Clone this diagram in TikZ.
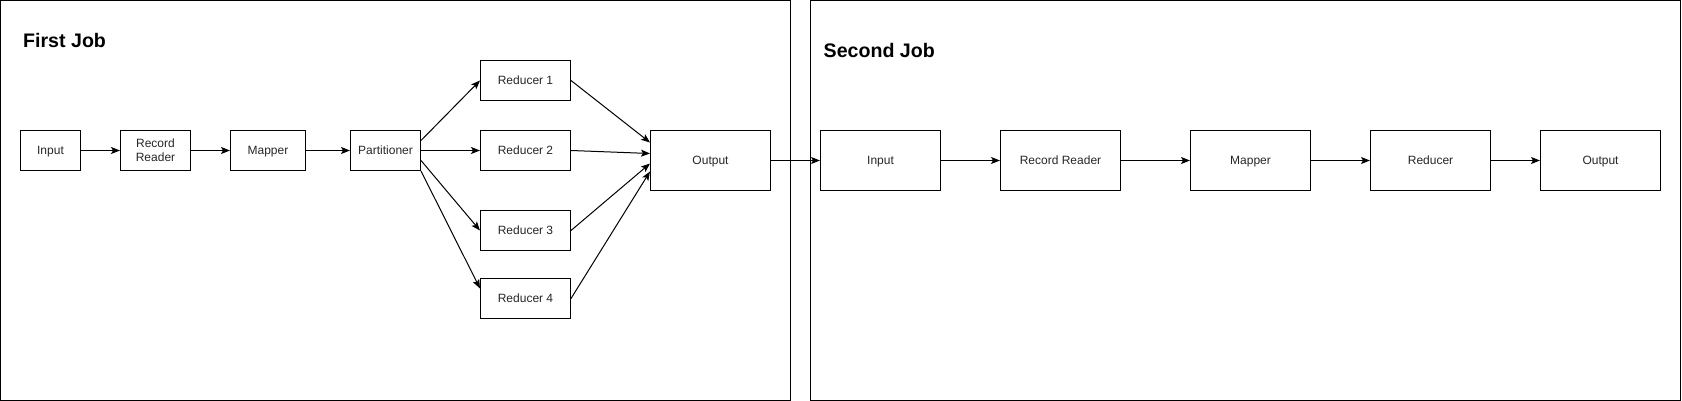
\documentclass[tikz,border=0pt]{standalone}
\usepackage{fontspec}
\setmainfont{Liberation Sans}
\usetikzlibrary{arrows.meta}
\begin{document}
\begin{tikzpicture}[x=1pt,y=-1pt,
  box/.style={draw=black,line width=1pt,anchor=north west,inner sep=0pt,
    font=\fontsize{12}{14}\selectfont,text=black!85,text height=8.6pt,text depth=0pt},
  box2/.style={draw=black,line width=1pt,anchor=north west,inner sep=0pt,
    font=\fontsize{12}{14}\selectfont,text=black!85,align=center},
  frame/.style={draw=black,line width=1pt},
  title/.style={anchor=base west,inner sep=0pt,font=\fontsize{19.6}{22}\selectfont\bfseries},
  conn/.style={line width=1pt,-{Stealth[length=9pt,width=7pt,inset=2pt]}}]
\useasboundingbox (0,0) rectangle (1682,401);
\draw[frame] (0.5,0.5) rectangle (790.5,400.5);
\draw[frame] (810.5,0.5) rectangle (1680.5,400.5);
\node[title] (t1) at (23,48) {First Job};
\node[title] (t2) at (823.5,58) {Second Job};
% first job
\node[box,minimum width=60pt,minimum height=40pt] (in1) at (20,130) {Input};
\node[box2,minimum width=70pt,minimum height=40pt] (rr1) at (120,130) {Record\\Reader};
\node[box,minimum width=75pt,minimum height=40pt] (map1) at (230,130) {Mapper};
\node[box,minimum width=70pt,minimum height=40pt] (part) at (350,130) {Partitioner};
\node[box,minimum width=90pt,minimum height=40pt] (r1) at (480,60) {Reducer 1};
\node[box,minimum width=90pt,minimum height=40pt] (r2) at (480,130) {Reducer 2};
\node[box,minimum width=90pt,minimum height=40pt] (r3) at (480,210) {Reducer 3};
\node[box,minimum width=90pt,minimum height=40pt] (r4) at (480,278) {Reducer 4};
\node[box,minimum width=120pt,minimum height=60pt] (out1) at (650,130) {Output};
% second job
\node[box,minimum width=120pt,minimum height=60pt] (in2) at (820,130) {Input};
\node[box,minimum width=120pt,minimum height=60pt] (rr2) at (1000,130) {Record Reader};
\node[box,minimum width=120pt,minimum height=60pt] (map2) at (1190,130) {Mapper};
\node[box,minimum width=120pt,minimum height=60pt] (red2) at (1370,130) {Reducer};
\node[box,minimum width=120pt,minimum height=60pt] (out2) at (1540,130) {Output};
% connectors
\draw[conn] (in1) -- (rr1);
\draw[conn] (rr1) -- (map1);
\draw[conn] (map1) -- (part);
\draw[conn] ([yshift=10pt]part.east) -- (r1.west);
\draw[conn] (part.east) -- (r2.west);
\draw[conn] ([yshift=-10pt]part.east) -- (r3.west);
\draw[conn] (part.south east) -- ([yshift=10pt]r4.west);
\draw[conn] (r1.east) -- ([yshift=18pt]out1.west);
\draw[conn] (r2.east) -- ([yshift=7pt]out1.west);
\draw[conn] (r3.east) -- ([yshift=-3pt]out1.west);
\draw[conn] (r4.east) -- ([yshift=-11pt]out1.west);
\draw[conn] (out1) -- (in2);
\draw[conn] (in2) -- (rr2);
\draw[conn] (rr2) -- (map2);
\draw[conn] (map2) -- (red2);
\draw[conn] (red2) -- (out2);
\end{tikzpicture}
\end{document}
